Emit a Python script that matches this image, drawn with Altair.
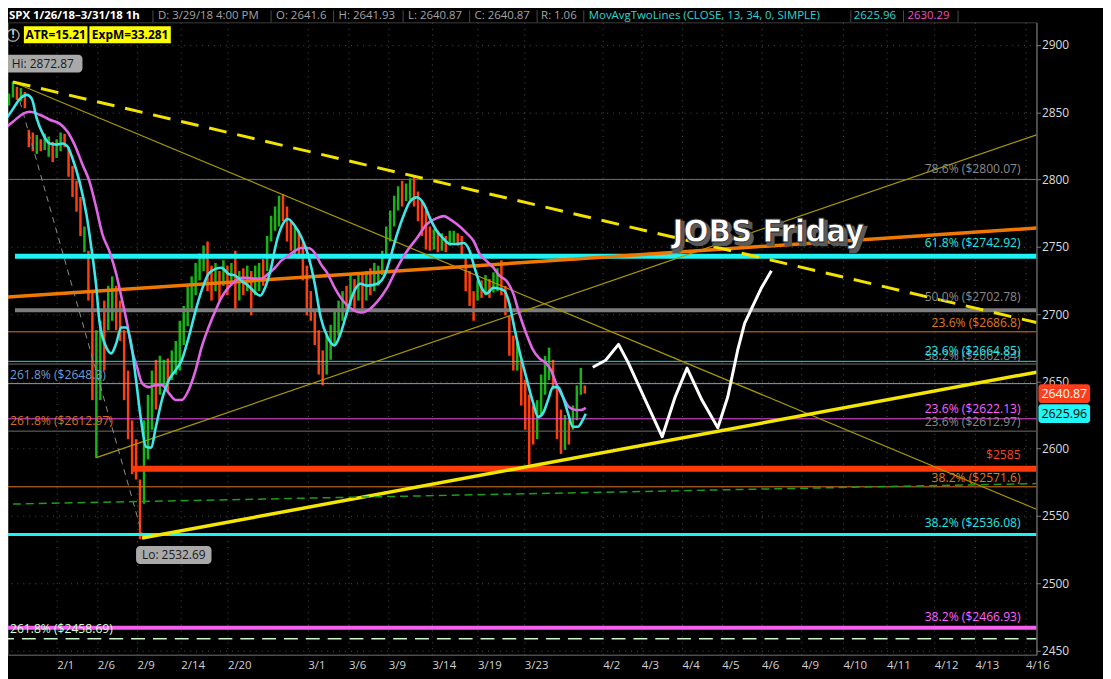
import json
import altair as alt
import pandas as pd

# ---------------- data ----------------
# hourly-ish OHLC bars (every bar slot = 4 time units), high / low / direction
bar_hi = [2858, 2864, 2872.87, 2869, 2868, 2865, 2837, 2835, 2833, 2830,
          2834, 2832, 2828, 2830, 2835, 2834, 2824, 2810, 2799, 2787,
          2765, 2747, 2717, 2688, 2695, 2710, 2721, 2728, 2721, 2710,
          2688, 2658, 2621, 2607, 2577, 2621, 2640, 2658, 2666, 2669,
          2666, 2667, 2673, 2680, 2695, 2706, 2721, 2728, 2738, 2745,
          2751, 2754, 2736, 2738, 2732, 2740, 2736, 2738, 2747, 2732,
          2734, 2736, 2732, 2736, 2738, 2741, 2758, 2773, 2780, 2788,
          2789, 2780, 2769, 2765, 2762, 2754, 2736, 2717, 2703, 2688,
          2673, 2684, 2692, 2703, 2710, 2717, 2721, 2729, 2726, 2731,
          2729, 2732, 2734, 2738, 2736, 2747, 2765, 2777, 2788, 2795,
          2799, 2797, 2801, 2802, 2791, 2784, 2777, 2765, 2763, 2762,
          2760, 2758, 2762, 2762, 2760, 2758, 2743, 2732, 2717, 2725,
          2725, 2729, 2726, 2731, 2734, 2740, 2721, 2699, 2684, 2680,
          2666, 2651, 2640, 2632, 2636, 2655, 2669, 2675, 2666, 2647,
          2629, 2625, 2621, 2632, 2647, 2660, 2647]
bar_lo = [2852, 2855, 2861, 2859, 2858, 2853, 2824, 2821, 2819, 2821,
          2822, 2817, 2813, 2816, 2821, 2824, 2802, 2787, 2776, 2758,
          2746, 2710, 2636, 2593, 2636, 2658, 2688, 2695, 2688, 2680,
          2636, 2607, 2581, 2577, 2532.69, 2559, 2592, 2614, 2629, 2640,
          2647, 2643, 2651, 2655, 2658, 2677, 2691, 2703, 2714, 2725,
          2732, 2717, 2710, 2717, 2710, 2721, 2714, 2721, 2703, 2710,
          2714, 2717, 2699, 2714, 2717, 2721, 2732, 2754, 2762, 2765,
          2769, 2754, 2747, 2743, 2741, 2725, 2699, 2695, 2677, 2655,
          2647, 2655, 2666, 2677, 2684, 2695, 2699, 2706, 2703, 2710,
          2704, 2710, 2714, 2717, 2721, 2729, 2743, 2754, 2765, 2777,
          2780, 2784, 2785, 2780, 2769, 2758, 2748, 2747, 2748, 2746,
          2747, 2746, 2751, 2753, 2751, 2743, 2717, 2706, 2695, 2710,
          2712, 2714, 2712, 2716, 2717, 2714, 2699, 2669, 2658, 2658,
          2632, 2614, 2588, 2603, 2607, 2625, 2640, 2651, 2644, 2607,
          2596, 2599, 2603, 2614, 2621, 2640, 2640.87]
bar_up = [1, 1, 1, 0, 1, 0, 0, 0, 1, 0,
          1, 1, 0, 1, 1, 0, 0, 0, 0, 0,
          1, 0, 0, 1, 1, 0, 1, 1, 0, 0,
          0, 0, 0, 0, 0, 1, 1, 1, 0, 1,
          1, 0, 1, 1, 1, 1, 1, 1, 1, 1,
          1, 0, 0, 1, 0, 1, 0, 1, 0, 1,
          0, 1, 0, 1, 1, 0, 1, 1, 1, 1,
          0, 0, 0, 1, 0, 0, 0, 0, 0, 0,
          0, 1, 1, 1, 1, 1, 0, 1, 0, 1,
          0, 1, 0, 1, 1, 1, 1, 1, 1, 1,
          0, 1, 1, 0, 0, 0, 0, 0, 1, 0,
          1, 0, 1, 1, 0, 0, 0, 0, 0, 1,
          0, 1, 0, 1, 1, 0, 0, 0, 0, 1,
          0, 0, 0, 0, 1, 1, 1, 1, 0, 0,
          0, 1, 0, 1, 1, 1, 0]
BAR_START, BAR_STEP = 5, 4

# 13-period moving average (cyan)
ma13_t = [3, 13, 20, 27, 32, 37, 43, 50, 57, 63, 68, 73, 80, 87, 92, 97, 100, 107,
          112, 117, 122, 127, 132, 137, 142, 147, 152, 157, 163, 170, 177, 183, 190,
          197, 203, 210, 217, 223, 230, 237, 243, 250, 257, 262, 267, 273, 278, 283,
          290, 297, 303, 310, 317, 323, 330, 337, 343, 350, 357, 363, 370, 380, 388,
          393, 400, 407, 413, 420, 427, 433, 440, 447, 453, 460, 467, 473, 478, 485,
          490, 497, 503, 508, 513, 518, 523, 530, 537, 542, 547, 552, 557, 562, 567,
          572, 577, 582, 587, 590]
ma13_v = [2841.5, 2852.5, 2859.9, 2862.9, 2859.9, 2845.2, 2834.1, 2826.7, 2825.9,
          2826.7, 2824.5, 2815.6, 2798.6, 2774.2, 2749.1, 2719.6, 2695.2, 2675.3,
          2670.8, 2678.2, 2690.0, 2690.0, 2678.2, 2650.9, 2621.4, 2601.4, 2600.7,
          2616.2, 2636.1, 2650.9, 2658.3, 2665.7, 2682.7, 2702.6, 2717.4, 2729.9,
          2733.6, 2734.4, 2729.9, 2728.5, 2724.8, 2721.1, 2715.9, 2713.7, 2719.6,
          2734.4, 2752.1, 2763.9, 2770.6, 2765.4, 2758.0, 2744.7, 2722.5, 2697.4,
          2682.7, 2676.7, 2685.6, 2702.6, 2717.4, 2722.5, 2721.1, 2722.5, 2729.9,
          2741.7, 2759.5, 2774.2, 2783.8, 2786.8, 2781.6, 2771.3, 2761.7, 2755.8,
          2752.1, 2752.1, 2752.8, 2746.9, 2734.4, 2719.6, 2715.2, 2719.6, 2718.9,
          2717.4, 2707.8, 2690.0, 2673.1, 2653.1, 2633.9, 2623.6, 2626.5, 2636.1,
          2645.7, 2645.7, 2638.3, 2626.5, 2616.2, 2616.2, 2621.4, 2625.96]

# 34-period moving average (magenta)
ma34_t = [3, 13, 23, 30, 40, 50, 60, 68, 75, 83, 90, 97, 103, 110, 117, 123, 128,
          133, 138, 143, 150, 157, 163, 170, 177, 183, 190, 197, 203, 210, 217, 223,
          230, 237, 243, 250, 257, 263, 270, 277, 283, 290, 297, 303, 310, 317, 323,
          330, 337, 343, 350, 357, 363, 370, 380, 390, 400, 410, 420, 430, 440, 447,
          453, 460, 470, 477, 483, 490, 497, 503, 510, 517, 523, 530, 537, 543, 550,
          555, 560, 567, 573, 580, 585, 590]
ma34_v = [2837.0, 2842.9, 2848.8, 2850.3, 2848.1, 2844.4, 2841.5, 2835.5, 2825.9,
          2811.2, 2798.6, 2778.7, 2759.5, 2746.9, 2729.9, 2710.0, 2693.0, 2673.1,
          2660.5, 2648.7, 2645.7, 2647.2, 2647.2, 2641.3, 2636.1, 2636.1, 2643.5,
          2658.3, 2675.3, 2690.0, 2702.6, 2712.2, 2719.6, 2724.8, 2727.0, 2727.0,
          2726.3, 2726.3, 2729.9, 2734.4, 2739.5, 2743.2, 2746.9, 2749.1, 2749.1,
          2745.4, 2737.3, 2729.9, 2719.6, 2712.2, 2706.3, 2702.6, 2701.1, 2702.6,
          2709.3, 2719.6, 2734.4, 2746.9, 2756.5, 2766.9, 2771.3, 2772.8, 2770.6,
          2766.9, 2760.2, 2754.3, 2744.7, 2739.5, 2734.4, 2728.5, 2724.8, 2715.2,
          2700.4, 2685.6, 2673.1, 2667.2, 2663.5, 2658.3, 2648.7, 2638.3, 2630.9,
          2628.7, 2628.7, 2630.29]

# hand-drawn forecast path (white)
path_t = [597, 610, 623, 633, 650, 667, 680, 692, 707, 723, 733, 743, 750, 757, 767, 777]
path_v = [2660.5, 2665.7, 2677.5, 2663.5, 2636.1, 2608.8, 2638.3, 2659.8, 2636.1,
          2615.5, 2638.3, 2673.1, 2693.0, 2704.1, 2719.6, 2732.1]

# time axis
date_ticks = [57, 98, 138, 182, 229, 310, 351, 391, 435, 481, 528, 607, 646, 687,
              727, 767, 807, 849, 893, 941, 982, 1033]
date_labels = ["2/1", "2/6", "2/9", "2/14", "2/20", "3/1", "3/6", "3/9", "3/14",
               "3/19", "3/23", "4/2", "4/3", "4/4", "4/5", "4/6", "4/9", "4/10",
               "4/11", "4/12", "4/13", "4/16"]
price_ticks = [2450, 2500, 2550, 2600, 2650, 2700, 2750, 2800, 2850, 2900]

# horizontal price levels
level_price = [2800.07, 2742.92, 2702.78, 2686.8, 2664.85, 2662.84, 2648.3,
               2622.13, 2612.97, 2585, 2571.6, 2536.08, 2466.93]
level_start = [3, 15, 15, 3, 3, 3, 3, 3, 3, 133, 3, 3, 3]
dashed_level = 2458.69

right_label_price = [2800.07, 2742.92, 2702.78, 2686.8, 2662.84, 2664.85, 2622.13,
                     2612.97, 2585, 2571.6, 2536.08, 2466.93]
right_label_text = ["78.6%  ($2800.07)", "61.8%  ($2742.92)", "50.0%  ($2702.78)",
                    "23.6%  ($2686.8)", "38.2%  ($2662.84)", "23.6%  ($2664.85)",
                    "23.6%  ($2622.13)", "23.6%  ($2612.97)", "$2585",
                    "38.2%  ($2571.6)", "38.2%  ($2536.08)", "38.2%  ($2466.93)"]
left_label_price = [2648.3, 2612.97, 2458.69]
left_label_text = ["261.8%  ($2648.3)", "261.8%  ($2612.97)", "261.8%  ($2458.69)"]

# trend lines: start time, start price, end time, end price
trend_t0 = [13, 13, 97, 0, 143, 20, 0]
trend_p0 = [2872.5, 2872.5, 2593.3, 2712.2, 2533.5, 2858.0, 2558.6]
trend_t1 = [1044, 1044, 1044, 1044, 1044, 143, 1044]
trend_p1 = [2693.7, 2554.9, 2833.2, 2763.9, 2656.8, 2537.0, 2574.0]

hi_point = (13, 2872.87)
lo_point = (143, 2532.69)
last_close, ma13_last = 2640.87, 2625.96

header_texts = ["D: 3/29/18 4:00 PM", "O: 2641.6", "H: 2641.93", "L: 2640.87",
                "C: 2640.87", "R: 1.06"]
study_text = "MovAvgTwoLines (CLOSE, 13, 34, 0, SIMPLE)"
study_vals = ["2625.96", "2630.29"]

# ---------------- layout / styles ----------------
T_MIN, T_MAX = 8, 1044
P_MIN, P_MAX = 2446.8, 2916.8
W, H = 1036, 637
PX_PER_PT = H / (P_MAX - P_MIN)
FONT = "Open Sans"
HDR_Y = -6

xs = alt.Scale(domain=[T_MIN, T_MAX], nice=False, zero=False)
ys = alt.Scale(domain=[P_MIN, P_MAX], nice=False, zero=False)

label_expr = "%s[indexof(%s, datum.value)]" % (json.dumps(date_labels), json.dumps(date_ticks))
xaxis = alt.Axis(values=date_ticks, labelExpr=label_expr, labelAlign="left",
                 labelBaseline="top", labelPadding=5, labelColor="#d2d2d2",
                 labelFont=FONT, labelFontSize=11.5, labelOverlap=False,
                 labelFlush=False, ticks=False, domain=True, domainColor="#5a5a5a",
                 grid=True, gridColor="#505050", gridDash=[1, 5], title=None)
yaxis = alt.Axis(orient="right", values=price_ticks, format="d", labelColor="#dcdcdc",
                 labelFont=FONT, labelFontSize=12, labelPadding=1, ticks=True,
                 tickSize=4, tickColor="#7a7a7a", domain=True, domainColor="#7a7a7a",
                 grid=True, gridColor="#505050", gridDash=[1, 5], title=None,
                 labelOverlap=False)


def X(field):
    return alt.X(field, scale=xs, axis=xaxis)


def Y(field):
    return alt.Y(field, scale=ys, axis=yaxis)


GREEN, RED = "#17b317", "#ff3d0d"

# ---------------- tables ----------------
bars_df = pd.DataFrame({
    "t": [BAR_START + BAR_STEP * i for i in range(len(bar_hi))],
    "hi": bar_hi, "lo": bar_lo,
    "dir": ["up" if u else "down" for u in bar_up],
})
ma13_df = pd.DataFrame({"t": ma13_t, "p": ma13_v})
ma34_df = pd.DataFrame({"t": ma34_t, "p": ma34_v})
path_df = pd.DataFrame({"t": path_t, "p": path_v})

level_colors = ["#707070", "#1ef2f2", "#7c7c7c", "#e0781e", "#22d8e8", "#6e6e6e",
                "#7d9fc2", "#f050f0", "#6e6e6e", "#ff3a0a", "#e0781e", "#1ef2f2", "#f560f0"]
level_widths = [1, 5, 4, 1, 1, 1, 1, 1, 1, 6, 1, 3, 4]
levels_df = pd.DataFrame({"p": level_price, "t0": level_start, "t1": T_MAX,
                          "c": level_colors, "w": level_widths})

right_colors = ["#8a8a8a", "#22e8e8", "#8a8a8a", "#e0781e", "#8a8a8a", "#22e8e8",
                "#ff60ff", "#8a8a8a", "#ff4418", "#e0781e", "#22e8e8", "#ff60ff"]
right_off = [-10, -13, -13, -9, -8, -10, -10, -9, -14, -9, -12, -11]
rlab_df = pd.DataFrame({"p": right_label_price, "txt": right_label_text,
                        "c": right_colors, "off": right_off, "t": 1028})
rlab_df["ly"] = rlab_df["p"] - rlab_df["off"] / PX_PER_PT
left_colors = ["#6f9cd0", "#d8701a", "#d4ffd4"]
left_off = [-9, -10, -10]
llab_df = pd.DataFrame({"p": left_label_price, "txt": left_label_text,
                        "c": left_colors, "off": left_off, "t": 10})
llab_df["ly"] = llab_df["p"] - llab_df["off"] / PX_PER_PT

trend_colors = ["#f2e200", "#a89a00", "#a89a00", "#f07800", "#f5e600", "#8c8c8c", "#1b9e1b"]
trend_widths = [3, 1.2, 1.2, 3.5, 3.5, 1, 1.5]
trend_dash = ["long", "solid", "solid", "solid", "solid", "short", "green"]
trend_df = pd.DataFrame({"t0": trend_t0, "p0": trend_p0, "t1": trend_t1, "p1": trend_p1,
                         "c": trend_colors, "w": trend_widths, "d": trend_dash})

# ---------------- layers ----------------
layers = []

bars = alt.Chart(bars_df).mark_rule(strokeWidth=2.5, clip=True).encode(
    x=X("t:Q"), y=Y("lo:Q"), y2="hi:Q",
    color=alt.Color("dir:N", scale=alt.Scale(domain=["up", "down"], range=[GREEN, RED]),
                    legend=None),
)
layers.append(bars)

levels = alt.Chart(levels_df).mark_rule(clip=True).encode(
    x=X("t0:Q"), x2="t1:Q", y=Y("p:Q"),
    color=alt.Color("c:N", scale=None),
    strokeWidth=alt.StrokeWidth("w:Q", scale=None),
)
layers.append(levels)

dashed = alt.Chart(pd.DataFrame({"p": [dashed_level], "t0": [0], "t1": [T_MAX]})).mark_rule(
    clip=True, color="#c8f5c8", strokeWidth=1.5, strokeDash=[14, 8]).encode(
    x=X("t0:Q"), x2="t1:Q", y=Y("p:Q"))
layers.append(dashed)

dash_styles = {"solid": None, "long": [18, 11], "short": [6, 5], "green": [8, 5]}
for key, dash in dash_styles.items():
    sub = trend_df[trend_df["d"] == key]
    kw = dict(clip=True)
    if dash is not None:
        kw["strokeDash"] = dash
    layers.append(alt.Chart(sub).mark_rule(**kw).encode(
        x=X("t0:Q"), x2="t1:Q", y=Y("p0:Q"), y2="p1:Q",
        color=alt.Color("c:N", scale=None),
        strokeWidth=alt.StrokeWidth("w:Q", scale=None)))

layers.append(alt.Chart(ma34_df).mark_line(color="#e066e6", strokeWidth=2.6,
                                           interpolate="monotone", clip=True).encode(
    x=X("t:Q"), y=Y("p:Q")))
layers.append(alt.Chart(ma13_df).mark_line(color="#3ee8e8", strokeWidth=2.6,
                                           interpolate="monotone", clip=True).encode(
    x=X("t:Q"), y=Y("p:Q")))
layers.append(alt.Chart(path_df).mark_line(color="#ffffff", strokeWidth=3,
                                           strokeJoin="round", clip=True).encode(
    x=X("t:Q"), y=Y("p:Q")))

# level labels
layers.append(alt.Chart(rlab_df).mark_text(align="right", baseline="middle", font=FONT,
                                           fontSize=12.2).encode(
    x=X("t:Q"), y=Y("ly:Q"), text="txt:N", color=alt.Color("c:N", scale=None)))
layers.append(alt.Chart(llab_df).mark_text(align="left", baseline="middle", font=FONT,
                                           fontSize=12.2).encode(
    x=X("t:Q"), y=Y("ly:Q"), text="txt:N", color=alt.Color("c:N", scale=None)))

# JOBS Friday
jobs_df = pd.DataFrame({"t": [774], "p": [2760.9], "txt": ["JOBS Friday"]})
for dx, dy, col, stroke, sw in [(2.5, 2.5, "#5a5a5a", "#5a5a5a", 2.5),
                                (0, 0, "#ffffff", "#2a2a2a", 0.8)]:
    layers.append(alt.Chart(jobs_df).mark_text(
        font="DejaVu Sans Condensed, Liberation Sans Narrow, sans-serif",
        fontWeight="bold", fontSize=33, align="center", baseline="middle",
        dx=dx, dy=dy, color=col, stroke=stroke, strokeWidth=sw).encode(
        x=X("t:Q"), y=Y("p:Q"), text="txt:N"))

# Hi / Lo bubbles
def bubble(point, label, w, xo, yo):
    df = pd.DataFrame({"t": [point[0]], "p": [point[1]], "txt": [label]})
    box = alt.Chart(df).mark_rect(width=w, height=18, cornerRadius=4, xOffset=xo,
                                  yOffset=yo, color="#a9a9a9").encode(
        x=X("t:Q"), y=Y("p:Q"))
    txt = alt.Chart(df).mark_text(font=FONT, fontSize=12, color="#1a1a1a", dx=xo,
                                  dy=yo, align="center", baseline="middle").encode(
        x=X("t:Q"), y=Y("p:Q"), text="txt:N")
    return [box, txt]

layers += bubble(hi_point, "Hi: 2872.87", 80, 30, -18)
layers += bubble(lo_point, "Lo: 2532.69", 76, 32, 16)

# right-side price tags
tags_df = pd.DataFrame({"t": [1072, 1072], "p": [last_close, ma13_last],
                        "txt": ["%.2f" % last_close, "%.2f" % ma13_last],
                        "fill": ["#ff3d1a", "#22f5f5"], "tc": ["#ffffff", "#000000"]})
layers.append(alt.Chart(tags_df).mark_rect(width=52, height=19, cornerRadius=3).encode(
    x=X("t:Q"), y=Y("p:Q"), color=alt.Color("fill:N", scale=None)))
layers.append(alt.Chart(tags_df).mark_text(font=FONT, fontSize=12.5, align="center",
                                           baseline="middle").encode(
    x=X("t:Q"), y=Y("p:Q"), text="txt:N", color=alt.Color("tc:N", scale=None)))

# header strip
hdr_df = pd.DataFrame({"t": [159, 278, 341, 411, 478, 545], "txt": header_texts})
layers.append(alt.Chart(hdr_df).mark_text(font=FONT, fontSize=11.5, color="#a4a4a4",
                                          align="left", baseline="middle").encode(
    x=X("t:Q"), y=alt.value(HDR_Y), text="txt:N"))
layers.append(alt.Chart(pd.DataFrame({"t": [9], "txt": ["SPX 1/26/18\u20133/31/18 1h"]})).mark_text(
    font=FONT, fontSize=11.5, fontWeight="bold", color="#ffffff", align="left",
    baseline="middle").encode(x=X("t:Q"), y=alt.value(HDR_Y), text="txt:N"))
study_df = pd.DataFrame({"t": [593, 860, 914], "txt": [study_text] + study_vals,
                         "c": ["#2fd4d4", "#2fd4d4", "#f050c8"]})
layers.append(alt.Chart(study_df).mark_text(font=FONT, fontSize=11.5, align="left",
                                            baseline="middle").encode(
    x=X("t:Q"), y=alt.value(HDR_Y), text="txt:N", color=alt.Color("c:N", scale=None)))
sep_df = pd.DataFrame({"t": [154, 273, 336, 406, 473, 541, 588, 857, 910, 965]})
layers.append(alt.Chart(sep_df).mark_rule(color="#4a4a4a", strokeWidth=1).encode(
    x=X("t:Q"), y=alt.value(-12), y2=alt.value(0)))

# ATR / ExpM boxes and alert icon
atr_df = pd.DataFrame({"t0": [24, 90], "t1": [88, 172], "tc": [56, 131],
                       "txt": ["ATR=15.21", "ExpM=33.281"]})
layers.append(alt.Chart(atr_df).mark_rect(color="#ffff00").encode(
    x=X("t0:Q"), x2="t1:Q", y=alt.value(4), y2=alt.value(21)))
layers.append(alt.Chart(atr_df).mark_text(font=FONT, fontSize=12, fontWeight="bold",
                                          color="#000000", align="center",
                                          baseline="middle").encode(
    x=X("tc:Q"), y=alt.value(13), text="txt:N"))
icon_df = pd.DataFrame({"t": [13], "txt": ["!"]})
layers.append(alt.Chart(icon_df).mark_point(shape="circle", size=150, filled=False,
                                            color="#dddddd", strokeWidth=1.5).encode(
    x=X("t:Q"), y=alt.value(13)))
layers.append(alt.Chart(icon_df).mark_text(font=FONT, fontSize=11, fontWeight="bold",
                                           color="#dddddd", align="center",
                                           baseline="middle").encode(
    x=X("t:Q"), y=alt.value(13), text="txt:N"))

chart = alt.layer(*layers).properties(
    width=W, height=H, background="#000000",
    padding={"left": 0, "top": 12, "right": 67, "bottom": 22},
    autosize=alt.AutoSizeParams(type="none"),
).configure_view(stroke="#3c3c3c", fill="#000000")

chart.save("out.html", embed_options={"renderer": "svg", "actions": False})
